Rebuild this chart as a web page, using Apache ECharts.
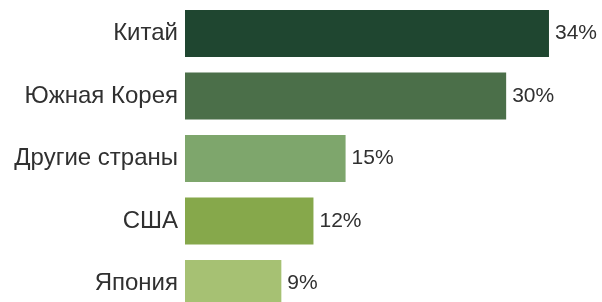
<!DOCTYPE html>
<html>
<head>
<meta charset="utf-8">
<script src="https://cdn.jsdelivr.net/npm/echarts@6/dist/echarts.min.js"></script>
<style>
  html, body { margin: 0; padding: 0; background: #ffffff; overflow: hidden; }
  #chart { width: 602px; height: 320px; }
</style>
</head>
<body>
<div id="chart"></div>
<script>
// категории сверху вниз
var countries = ['Китай', 'Южная Корея', 'Другие страны', 'США', 'Япония'];
var shares = [34, 30, 15, 12, 9];
var barColors = ['#1f4630', '#4b6f49', '#7ea66c', '#86a84b', '#a6c173'];

var chart = echarts.init(document.getElementById('chart'));

var data = shares.map(function (v, i) {
  return { value: v, itemStyle: { color: barColors[i] } };
});

// div выше окна: нижний столбец обрезан краем, как в оригинале
chart.setOption({
  backgroundColor: '#ffffff',
  animation: false,
  grid: {
    left: 185,
    right: 10.2,
    top: 2.25,
    bottom: 5.25,
    containLabel: false
  },
  xAxis: {
    type: 'value',
    min: 0,
    max: 38,
    show: false
  },
  yAxis: {
    type: 'category',
    data: countries,
    inverse: true,
    axisLine: { show: false },
    axisTick: { show: false },
    splitLine: { show: false },
    axisLabel: {
      margin: 7,
      color: '#303030',
      fontSize: 24,
      fontFamily: 'Liberation Sans, Arial, sans-serif'
    }
  },
  series: [{
    type: 'bar',
    data: data,
    barWidth: 47,
    label: {
      show: true,
      position: 'right',
      distance: 6,
      formatter: '{c}%',
      color: '#303030',
      fontSize: 21,
      fontFamily: 'Liberation Sans, Arial, sans-serif'
    }
  }]
});
</script>
</body>
</html>
